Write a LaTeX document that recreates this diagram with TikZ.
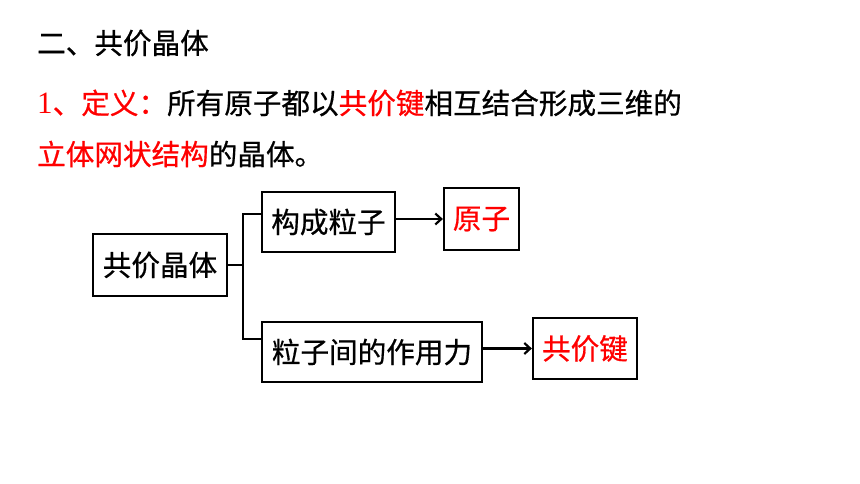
\documentclass[tikz,border=0pt]{standalone}
\usepackage{fontspec}
\setmainfont{Noto Sans CJK SC}[RawFeature={embolden=0.6}]
\newfontfamily\numfont{Liberation Serif}
\usetikzlibrary{arrows.meta}

\begin{document}
\begin{tikzpicture}[x=1pt,y=-1pt,
  every node/.style={font=\fontsize{28.6}{34}\selectfont},
  box/.style={draw,line width=2.2pt,inner sep=0pt},
  link/.style={line width=2.2pt},
  >={Straight Barb[length=6pt,width=11pt]}]
  \useasboundingbox (0,0) rectangle (860,484);
  % heading and definition
  \node[anchor=west,inner sep=0pt] (title) at (37,43) {二、共价晶体};
  \node[anchor=west,inner sep=0pt] (def1) at (37,103) {\textcolor{red}{{\numfont\fontsize{31}{34}\selectfont 1}、定义：}所有原子都以\textcolor{red}{共价键}相互结合形成三维的};
  \node[anchor=west,inner sep=0pt] (def2) at (37,154) {\textcolor{red}{立体网状结构}的晶体。};
  % boxes
  \node[box,minimum width=134pt,minimum height=62pt] (crystal) at (160,265) {共价晶体};
  \node[box,minimum width=133pt,minimum height=60pt] (part) at (328.5,222) {构成粒子};
  \node[box,minimum width=75pt,minimum height=62pt,text=red] (atom) at (481.5,219) {原子};
  \node[box,minimum width=220pt,minimum height=60pt] (force) at (372,352) {粒子间的作用力};
  \node[box,minimum width=104pt,minimum height=61pt,text=red] (bond) at (585,348.5) {共价键};
  % connectors
  \coordinate (fork) at (243,265);
  \draw[link] (crystal.east) -- (fork);
  \draw[link] ([yshift=8pt]part.west) -| (fork) |- ([yshift=13pt]force.west);
  \draw[link,->] (part.east |- atom.west) -- (atom.west);
  \draw[link,->] (force.east |- bond.west) -- (bond.west);
\end{tikzpicture}
\end{document}
